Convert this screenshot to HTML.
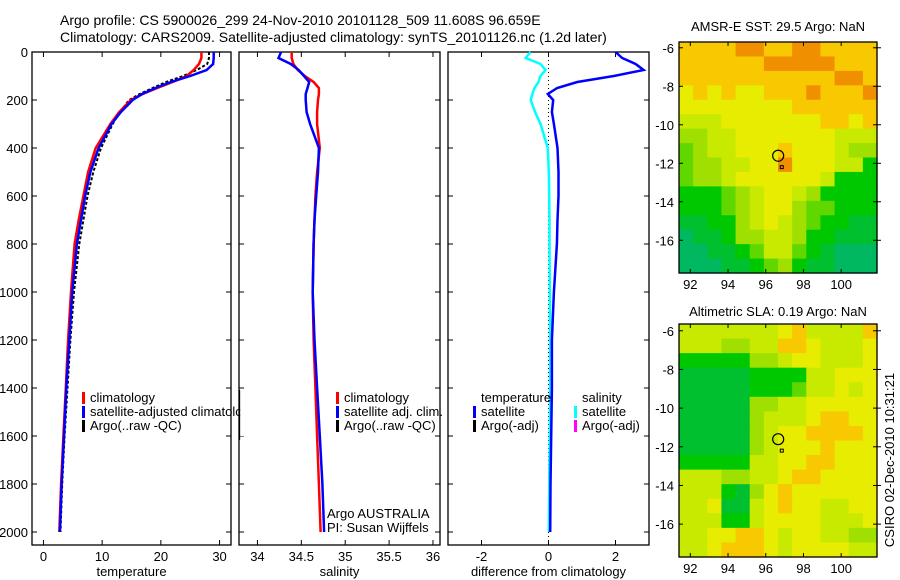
<!DOCTYPE html>
<html><head><meta charset="utf-8"><style>
html,body{margin:0;padding:0;background:#fff;}
svg{display:block;font-family:"Liberation Sans",sans-serif;}
</style></head><body>
<svg id="c" width="900" height="580" xmlns="http://www.w3.org/2000/svg">
<text x="60" y="25" font-size="14">Argo profile: CS 5900026_299 24-Nov-2010 20101128_509 11.608S 96.659E</text>
<text x="60" y="42" font-size="14">Climatology: CARS2009. Satellite-adjusted climatology: synTS_20101126.nc (1.2d later)</text>
<text x="778" y="31" font-size="13" text-anchor="middle">AMSR-E SST: 29.5 Argo: NaN</text>
<text x="778" y="316" font-size="13" text-anchor="middle">Altimetric SLA: 0.19 Argo: NaN</text>
<text transform="translate(894,460) rotate(-90)" font-size="13" text-anchor="middle">CSIRO 02-Dec-2010 10:31:21</text>
</svg>
<script>
// ---- profile data ----
const depths = [0,25,50,75,100,125,150,175,200,250,300,400,500,600,700,800,1000,1200,1400,1600,1800,2000];
const tempClim = [26.9,26.9,26.5,25.6,24.4,22.0,19.4,16.9,14.9,12.9,11.4,8.9,7.6,6.8,6.0,5.3,4.7,4.2,3.8,3.4,3.0,2.7];
const tempSat  = [29.0,29.0,28.9,27.8,25.0,21.7,19.1,16.8,15.2,13.2,11.6,9.4,8.0,7.1,6.4,5.7,4.9,4.4,3.9,3.5,3.1,2.8];
const tempArgo = [28.2,28.2,27.9,26.1,23.8,20.9,18.6,16.4,14.6,13.0,11.8,9.8,8.5,7.5,6.8,6.1,5.2,4.6,4.1,3.6,3.2,2.9];
const salClim  = [34.39,34.39,34.41,34.46,34.54,34.64,34.70,34.70,34.69,34.68,34.68,34.71,34.68,34.66,34.65,34.64,34.63,34.64,34.66,34.68,34.70,34.72];
const salSat   = [34.27,34.24,34.38,34.47,34.53,34.59,34.57,34.55,34.55,34.56,34.60,34.70,34.69,34.67,34.65,34.64,34.63,34.65,34.68,34.71,34.74,34.76];
const diffT    = [2.0,2.2,2.6,2.84,1.95,0.86,0.26,-0.02,0.14,0.10,0.16,0.27,0.30,0.30,0.27,0.25,0.16,0.10,0.10,0.08,0.06,0.05];
const diffS    = [-0.54,-0.68,-0.24,-0.09,-0.24,-0.30,-0.42,-0.48,-0.53,-0.40,-0.24,-0.02,0.01,0.02,0.03,0.03,0.04,0.05,0.05,0.04,0.02,0.01];
const depthTicks = [0,200,400,600,800,1000,1200,1400,1600,1800,2000];
const tempTicks = [0,10,20,30];
const salTicks = [34,34.5,35,35.5,36];
const diffTicks = [-2,0,2];
// ---- map data (digit = colour class 0..9) ----
const sstRows = ["88889988998888","88888899999888","88888888888998","78787788898889","77777777888888","66677777778878","55667777777666","45667778777655","45566779777663","45567777776333","33345677653333","33345677544333","22335676543322","12235566533222","11223466432111","11122345322111"];
const slaRows = ["66666667866668","66655668876667","33333556776667","22222333366777","22222333466767","22222556677777","22222566678877","22222567788887","22222567778777","33333667788777","66655667887777","66632578777777","66722678776677","66633677776667","66778876776655","66788876777766"];
const lonTicks = [92,94,96,98,100];
const latTicks = [-6,-8,-10,-12,-14,-16];
const argoPos = [96.659,-11.608];
const satPos = [96.85,-12.2];

const svg = document.getElementById('c');
const NS = 'http://www.w3.org/2000/svg';
function mk(tag, attrs, parent){const e=document.createElementNS(NS,tag);for(const k in attrs)e.setAttribute(k,attrs[k]);(parent||svg).appendChild(e);return e;}

const plotTop=52, plotBot=545;
const yD = d => 52 + d*0.24;
const panels = [
  {x0:32,x1:231,lo:-1.95,hi:31.95,ticks:tempTicks,label:'temperature',name:'temperature-panel'},
  {x0:239,x1:440,lo:33.79,hi:36.08,ticks:salTicks,label:'salinity',name:'salinity-panel'},
  {x0:448,x1:649,lo:-3,hi:3,ticks:diffTicks,label:'difference from climatology',name:'difference-panel'}
];
panels.forEach((p,i)=>{
  p.sx = v => p.x0 + (v-p.lo)/(p.hi-p.lo)*(p.x1-p.x0);
  const g = mk('g',{});
  
  
  p.g=g;
  mk('rect',{x:p.x0,y:plotTop,width:p.x1-p.x0,height:plotBot-plotTop,fill:'#fff',stroke:'#000','stroke-width':1.3},g);
  depthTicks.forEach(d=>{
    const y=yD(d);
    const t1=mk('line',{x1:p.x0,x2:p.x0+5,y1:y,y2:y,stroke:'#000'},g);
    
    mk('line',{x1:p.x1-5,x2:p.x1,y1:y,y2:y,stroke:'#000'},g);
    if(i===0){
      const t=mk('text',{x:28,y:y+5,'font-size':13,'text-anchor':'end'},g);
      
      t.textContent=d;
    }
  });
  p.ticks.forEach(v=>{
    const x=p.sx(v);
    mk('line',{x1:x,x2:x,y1:plotBot,y2:plotBot-5,stroke:'#000'},g);
    mk('line',{x1:x,x2:x,y1:plotTop,y2:plotTop+5,stroke:'#000'},g);
    const t=mk('text',{x:x,y:561,'font-size':13,'text-anchor':'middle'},g);
    
    t.textContent=v;
  });
  const xl=mk('text',{x:(p.x0+p.x1)/2,y:576,'font-size':13,'text-anchor':'middle'},g);
  
  xl.textContent=p.label;
});
function line(p, vals, color, w, dash, name){
  const pts = vals.map((v,k)=>p.sx(v).toFixed(1)+','+yD(depths[k]).toFixed(1)).join(' ');
  const e = mk('polyline',{points:pts,fill:'none',stroke:color,'stroke-width':w},p.g);
  if(dash) e.setAttribute('stroke-dasharray',dash);
  
  
}
const P3=panels[2];
mk('line',{x1:P3.sx(0),x2:P3.sx(0),y1:plotTop,y2:plotBot,stroke:'#000','stroke-dasharray':'1,3'},P3.g);
line(panels[0],tempArgo,'#000',2,'3,2','temp-argo-line');
line(panels[0],tempClim,'#f00',2.5,null,'temp-climatology-line');
line(panels[0],tempSat,'#00f',2.5,null,'temp-satellite-line');
line(panels[1],salClim,'#f00',2.5,null,'sal-climatology-line');
line(panels[1],salSat,'#00f',2.5,null,'sal-satellite-line');
line(P3,diffS,'#0ff',2.5,null,'sal-diff-line');
line(P3,diffT,'#00f',2.5,null,'temp-diff-line');

function legend(g,x,y,color,text){
  if(color){const b=mk('rect',{x:x-8,y:y-10,width:3,height:12,fill:color},g);}
  const t=mk('text',{x:x,y:y,'font-size':13},g);
  
  t.textContent=text;
}
const lg1=mk('g',{});
legend(lg1,90,402,'#f00','climatology');
legend(lg1,90,416,'#00f','satellite-adjusted climatology');
legend(lg1,90,430,'#000','Argo(..raw -QC)');
mk('rect',{x:240.2,y:392,width:60,height:44,fill:'#fff'});
mk('line',{x1:239.5,x2:239.5,y1:390,y2:440,stroke:'#000','stroke-width':1.3});
const lg2=mk('g',{});
legend(lg2,344,402,'#f00','climatology');
legend(lg2,344,416,'#00f','satellite adj. clim.');
legend(lg2,344,430,'#000','Argo(..raw -QC)');
const a1=mk('text',{x:327,y:518,'font-size':13});a1.textContent='Argo AUSTRALIA';
const a2=mk('text',{x:327,y:532,'font-size':13});a2.textContent='PI: Susan Wijffels';
const lg3=mk('g',{});
legend(lg3,481,402,null,'temperature');
legend(lg3,481,416,'#00f','satellite');
legend(lg3,481,430,'#000','Argo(-adj)');
legend(lg3,582,402,null,'salinity');
legend(lg3,582,416,'#0ff','satellite');
legend(lg3,582,430,'#f0f','Argo(-adj)');

// ---- maps ----
const palette=['#00c080','#00b860','#00c030','#00c800','#60d800','#a0e000','#c8ea00','#e8ec00','#f8c800','#f09000'];
function drawMap(rows, y0, y1, latTop, latBot, name){
  const x0=679, x1=877, lonL=91.4, lonR=101.9;
  const g=mk('g',{});
  
  
  const sx=v=>x0+(v-lonL)/(lonR-lonL)*(x1-x0);
  const sy=v=>y0+(latTop-v)/(latTop-latBot)*(y1-y0);
  const nr=rows.length, nc=rows[0].length;
  const cw=(x1-x0)/nc, ch=(y1-y0)/nr;
  rows.forEach((r,ri)=>{[...r].forEach((c,ci)=>{
    const cell=mk('rect',{x:x0+ci*cw,y:y0+ri*ch,width:cw+0.6,height:ch+0.6,fill:palette[+c]},g);
    
  });});
  mk('rect',{x:x0,y:y0,width:x1-x0,height:y1-y0,fill:'none',stroke:'#000','stroke-width':1.3},g);
  lonTicks.forEach(v=>{const x=sx(v);
    mk('line',{x1:x,x2:x,y1:y1,y2:y1-4,stroke:'#000'},g);
    mk('line',{x1:x,x2:x,y1:y0,y2:y0+4,stroke:'#000'},g);
    const t=mk('text',{x:x,y:y1+16,'font-size':13,'text-anchor':'middle'},g);
    t.textContent=v;});
  latTicks.forEach(v=>{const y=sy(v);
    mk('line',{x1:x0,x2:x0+4,y1:y,y2:y,stroke:'#000'},g);
    mk('line',{x1:x1-4,x2:x1+4,y1:y,y2:y,stroke:'#000'},g);
    const t=mk('text',{x:x0-5,y:y+5,'font-size':13,'text-anchor':'end'},g);
    t.textContent=v;});
  const m=mk('circle',{cx:sx(argoPos[0]),cy:sy(argoPos[1]),r:5.5,fill:'none',stroke:'#000','stroke-width':1.2},g);
  
  const s=mk('rect',{x:sx(satPos[0])-1.5,y:sy(satPos[1])-1.5,width:3,height:3,fill:'none',stroke:'#000'},g);
  
}
drawMap(sstRows,42,273,-5.7,-17.7,'sst-map');
drawMap(slaRows,324,557,-5.65,-17.7,'sla-map');
</script>
</body></html>
